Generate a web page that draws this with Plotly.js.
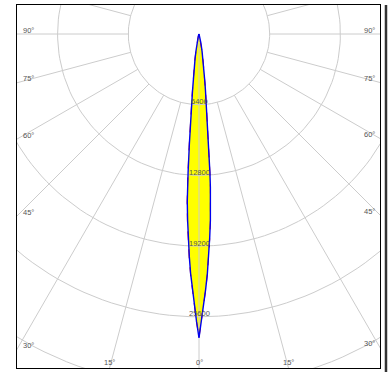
<!DOCTYPE html>
<html>
<head>
<meta charset="utf-8">
<script src="https://cdn.plot.ly/plotly-3.0.1.min.js"></script>
<style>
html,body{margin:0;padding:0;background:#fff;}
#chart{width:392px;height:372px;}
</style>
</head>
<body>
<div id="chart"></div>
<script>
// ---- data (luminous intensity, cd, vs. angle from nadir, degrees) ----
const angleDeg = [-90,-60,-45,-30,-20,-15,-12,-10,-9,-8,-7,-6.5,-6,-5.5,-5,-4.5,-4.25,-4,-3.5,-3,-2.5,-2,-1.5,-1,-0.5,0,
                  0.5,1,1.5,2,2.5,3,3.5,4,4.25,4.5,5,5.5,6,6.5,7,8,9,10,12,15,20,30,45,60,90];
const intensityC0 = [0,0,0,30,100,300,800,1600,2300,3200,4400,5200,6200,7900,10000,12600,13900,15200,16900,18500,20150,21700,23100,24500,26000,27500,
                     26000,24500,23100,21700,20150,18500,16900,15200,13900,12600,10000,7900,6200,5200,4400,3200,2300,1600,800,300,100,30,0,0,0];
const intensityC90 = [0,0,0,30,110,320,850,1700,2450,3350,4600,5400,6450,8200,10300,12900,14200,15400,17100,18700,20300,21800,23200,24600,26050,27500,
                      26000,24550,23150,21750,20200,18550,16950,15250,13950,12650,10100,8000,6300,5250,4450,3250,2350,1650,820,310,100,30,0,0,0];
const radialTicks = [6400, 12800, 19200, 25600, 32000];
const angleTicks = [0, 15, 30, 45, 60, 75, 90];

// ---- layout geometry ----
const xRange = [-16475, 16385];
const yRange = [-30235, 2625];
const holeR = 6400;
const spokeMax = 45000;

const rad = d => d * Math.PI / 180;
const toX = (r, a) => r * Math.sin(rad(a));
const toY = (r, a) => -r * Math.cos(rad(a));

// beam curves
const bx = intensityC0.map((r, i) => toX(r, angleDeg[i]));
const by = intensityC0.map((r, i) => toY(r, angleDeg[i]));
const rx = intensityC90.map((r, i) => toX(r, angleDeg[i]));
const ry = intensityC90.map((r, i) => toY(r, angleDeg[i]));

// grid circles
const cx = [], cy = [];
radialTicks.forEach(r => {
  for (let a = 0; a <= 360; a += 2) { cx.push(toX(r, a)); cy.push(toY(r, a)); }
  cx.push(null); cy.push(null);
});
// spokes every 15 deg
const sx = [], sy = [];
for (let a = 0; a < 360; a += 15) {
  const r0 = a === 0 ? 0 : holeR;
  sx.push(toX(r0, a), toX(spokeMax, a), null);
  sy.push(toY(r0, a), toY(spokeMax, a), null);
}

const gridColor = '#cccccc';
const traces = [
  {x: bx, y: by, mode: 'lines', fill: 'toself', fillcolor: '#ffff00',
   line: {width: 0, color: 'rgba(0,0,0,0)'}, hoverinfo: 'skip'},
  {x: cx, y: cy, mode: 'lines', line: {color: gridColor, width: 1}, hoverinfo: 'skip'},
  {x: sx, y: sy, mode: 'lines', line: {color: gridColor, width: 1}, hoverinfo: 'skip'},
  {x: rx, y: ry, mode: 'lines', line: {color: '#e00000', width: 1, dash: 'dash'}, hoverinfo: 'skip'},
  {x: bx, y: by, mode: 'lines', line: {color: '#0000ee', width: 1.4}, hoverinfo: 'skip'}
];

const font = {family: 'Liberation Sans, Arial, sans-serif', size: 7.5, color: '#555555'};
const annotations = [];
radialTicks.forEach(r => {
  if (-r > yRange[0]) {
    annotations.push({x: 0, y: -r, xref: 'x', yref: 'y', text: String(r), showarrow: false,
      xanchor: 'center', yanchor: 'middle', yshift: 3, font: font});
  }
});
angleTicks.forEach(a => {
  const sides = a === 0 ? [1] : [-1, 1];
  sides.forEach(s => {
    const sn = Math.sin(rad(a)), cs = Math.cos(rad(a));
    const tx = sn > 1e-9 ? (s > 0 ? xRange[1] : -xRange[0]) / sn : Infinity;
    const ty = cs > 1e-9 ? -yRange[0] / cs : Infinity;
    if (ty <= tx) {
      annotations.push({x: s * ty * sn, y: yRange[0], xref: 'x', yref: 'y', text: a + '°',
        showarrow: false, xanchor: 'center', yanchor: 'middle', yshift: 6, font: font});
    } else {
      annotations.push({x: s > 0 ? xRange[1] : xRange[0], y: -tx * cs, xref: 'x', yref: 'y',
        text: a + '°', showarrow: false, xanchor: s > 0 ? 'right' : 'left',
        xshift: s > 0 ? -3 : 4, yanchor: 'middle', yshift: 4, font: font});
    }
  });
});

const axisCommon = {showgrid: false, zeroline: false, showticklabels: false, ticks: '',
  showline: true, mirror: true, linecolor: '#000000', linewidth: 1, fixedrange: true};

const layout = {
  width: 392, height: 372,
  margin: {l: 17, r: 12, t: 5, b: 4, pad: 0},
  paper_bgcolor: '#ffffff', plot_bgcolor: '#ffffff',
  showlegend: false,
  xaxis: Object.assign({range: xRange}, axisCommon),
  yaxis: Object.assign({range: yRange}, axisCommon),
  annotations: annotations,
  shapes: [{type: 'line', xref: 'paper', yref: 'paper', x0: 1.0165, x1: 1.0165, y0: -0.02, y1: 1.0,
    line: {color: '#333333', width: 2.5}}]
};

Plotly.newPlot('chart', traces, layout, {staticPlot: true, displayModeBar: false});
</script>
</body>
</html>
